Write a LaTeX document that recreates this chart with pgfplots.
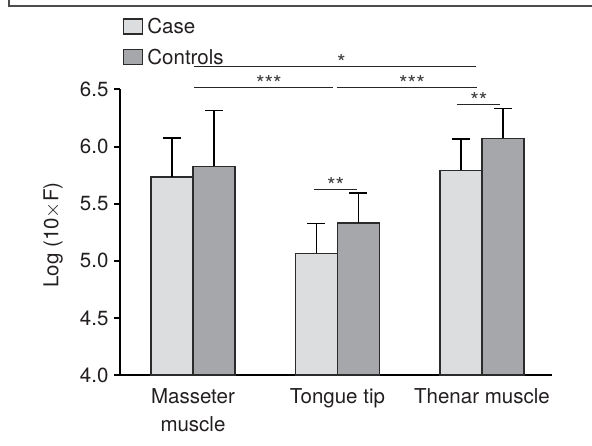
\documentclass[border=0pt]{standalone}
\usepackage{pgfplots}
\pgfplotsset{compat=1.18}
\usepackage{fontspec}
\setmainfont{TeX Gyre Heros}
\definecolor{casefill}{HTML}{DCDDDF}
\definecolor{ctrlfill}{HTML}{A6A7AA}
\definecolor{edge}{HTML}{2B2B2B}
\definecolor{txt}{HTML}{231F20}
\newcommand{\chartfont}{\fontsize{20.5}{26}\selectfont}
\begin{document}
\begin{tikzpicture}[x=1pt,y=1pt]
\useasboundingbox (0,0) rectangle (592,445);
\draw[line width=1.3pt, black!70] (9,445) -- (9,439) -- (592,439);
\begin{axis}[
  at={(120pt,70pt)}, anchor=south west,
  scale only axis, width=432pt, height=285.5pt,
  xmin=-0.505, xmax=2.485, ymin=4, ymax=6.5,
  clip=false,
  axis x line*=bottom, axis y line*=left,
  axis line style={line width=2pt, black},
  ybar=0pt, bar width=42pt,
  xtick={0,1,2},
  xticklabels={{Masseter\\[2pt]muscle},{Tongue tip},{Thenar muscle}},
  x tick style={draw=none},
  ytick={4,4.5,5,5.5,6,6.5},
  y tick style={line width=2pt, black},
  tick align=outside, major tick length=6pt,
  yticklabel style={xshift=-2pt, /pgf/number format/.cd, fixed, fixed zerofill, precision=1, assume math mode=true},
  tick label style={font=\chartfont, text=txt},
  xticklabel style={align=center, yshift=-4pt},
  ylabel={Log (10$\times$F)},
  ylabel style={font=\chartfont, text=txt, at={(rel axis cs:-0.155,0.49)}, anchor=center},
  legend style={at={(axis cs:-0.484,6.5)}, anchor=south west, yshift=22.5pt,
    draw=none, fill=none, inner sep=0pt, font=\chartfont, text=txt,
    row sep=12pt, legend cell align=left,
    nodes={inner sep=1pt},
    /tikz/every odd column/.append style={column sep=3pt}},
  error bars/y dir=plus, error bars/y explicit,
  error bars/error bar style={line width=1.2pt, black},
  error bars/error mark options={rotate=90, line width=1.2pt, black, mark size=9pt},
]
\addplot[fill=casefill, draw=edge, line width=1.2pt,
  legend image code/.code={\draw[fill=casefill, draw=edge, line width=1.2pt] (0pt,-7.5pt) rectangle (19pt,7.5pt);}]
  coordinates {(0,5.734) +- (0,0.342) (1,5.064) +- (0,0.262) (2,5.792) +- (0,0.274)};
\addlegendentry{Case}
\addplot[fill=ctrlfill, draw=edge, line width=1.2pt,
  legend image code/.code={\draw[fill=ctrlfill, draw=edge, line width=1.2pt] (0pt,-7.5pt) rectangle (19pt,7.5pt);}]
  coordinates {(0,5.827) +- (0,0.491) (1,5.331) +- (0,0.263) (2,6.074) +- (0,0.263)};
\addlegendentry{Controls}
% significance brackets
\draw[line width=1.3pt, black!85] (axis cs:0.007,6.704) -- (axis cs:1.958,6.704);
\node[anchor=base, yshift=-4.5pt, font=\fontsize{22}{26}\selectfont, text=black!75] at (axis cs:1.028,6.704) {*};
\draw[line width=1.3pt, black!85] (axis cs:0.007,6.520) -- (axis cs:0.967,6.520);
\node[anchor=base, yshift=-4.5pt, font=\fontsize{22}{26}\selectfont, text=black!75] at (axis cs:0.526,6.520) {***};
\draw[line width=1.3pt, black!85] (axis cs:0.997,6.520) -- (axis cs:1.965,6.520);
\node[anchor=base, yshift=-4.5pt, font=\fontsize{22}{26}\selectfont, text=black!75] at (axis cs:1.516,6.520) {***};
\draw[line width=1.3pt, black!85] (axis cs:1.827,6.369) -- (axis cs:2.125,6.369);
\node[anchor=base, yshift=-4.5pt, font=\fontsize{22}{26}\selectfont, text=black!75] at (axis cs:1.979,6.369) {**};
\draw[line width=1.3pt, black!85] (axis cs:0.837,5.626) -- (axis cs:1.133,5.626);
\node[anchor=base, yshift=-4.5pt, font=\fontsize{22}{26}\selectfont, text=black!75] at (axis cs:0.988,5.626) {**};
\end{axis}
\end{tikzpicture}
\end{document}
